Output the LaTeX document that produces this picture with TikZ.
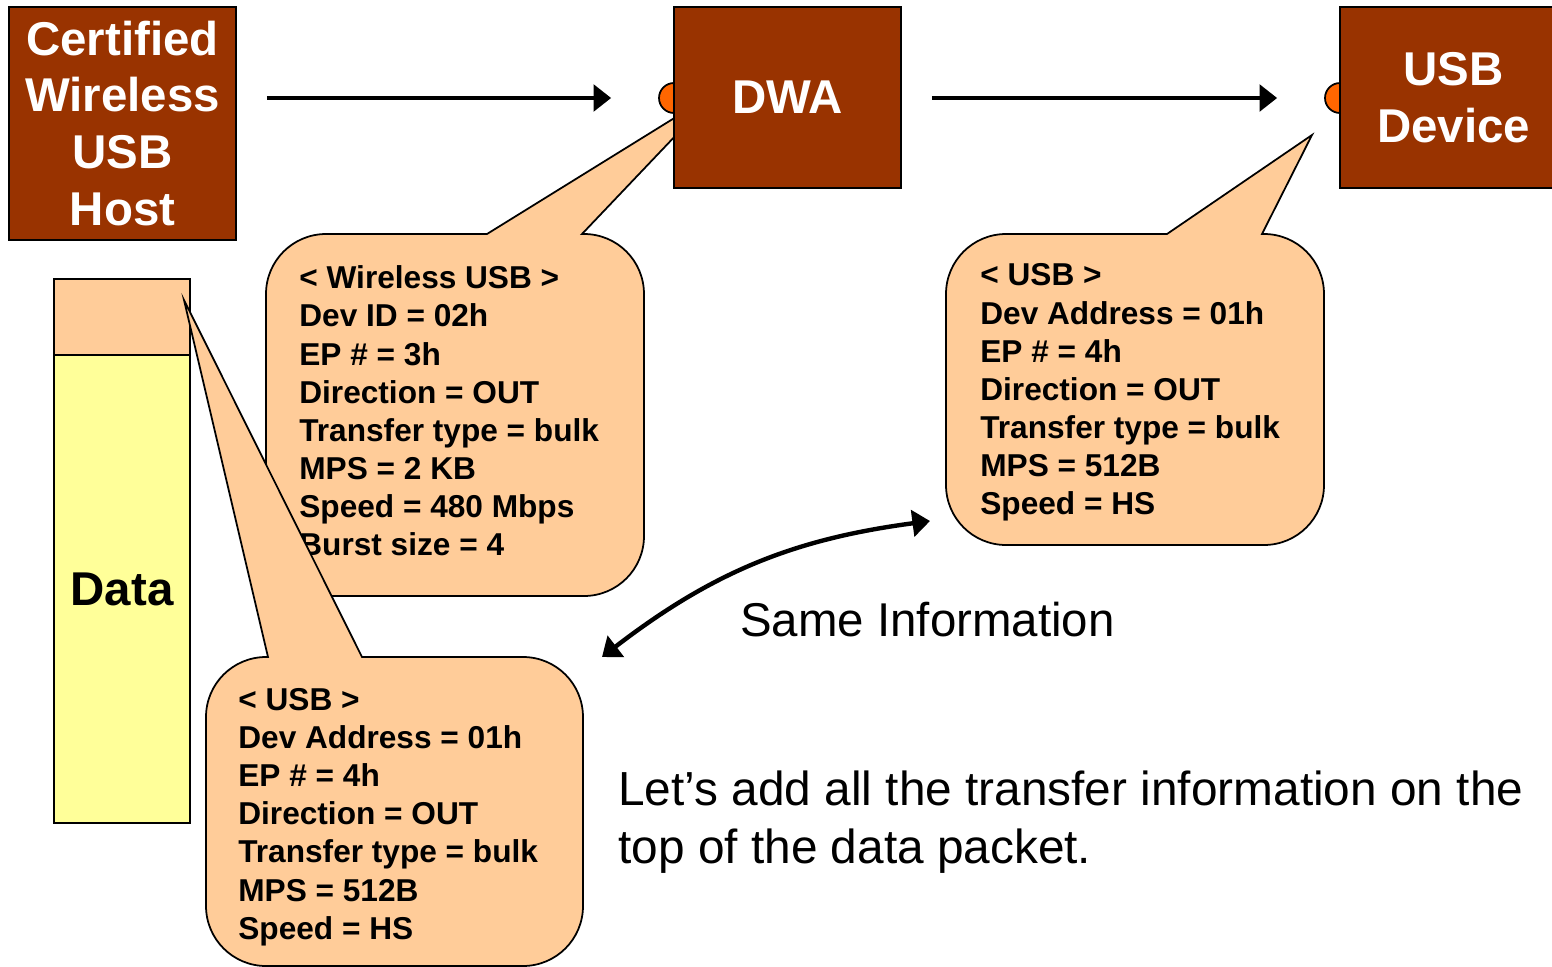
\documentclass[tikz,border=0pt]{standalone}
\usepackage{fontspec}
\setmainfont{Liberation Sans}
\usetikzlibrary{arrows.meta}
\definecolor{brick}{HTML}{993300}
\definecolor{peach}{HTML}{FFCC99}
\definecolor{paleyel}{HTML}{FFFF99}
\definecolor{portor}{HTML}{FF6600}

\begin{document}
\begin{tikzpicture}  % ------ wireless USB host -> DWA -> USB device -------------------
      [x=0.02cm,y=-0.02cm,
       unit/.style={draw=black, line width=1pt, fill=brick, text=white, align=center,
                    inner sep=0pt, font=\fontsize{27}{32.4}\selectfont\bfseries},
       port/.style={draw=black, line width=1pt, fill=portor, circle, minimum size=0.6cm, inner sep=0pt},
       bubble/.style={draw=black, line width=1pt, fill=peach},
       info/.style={font=\fontsize{18}{21.7}\selectfont\bfseries, align=left, anchor=west, inner sep=0pt},
       flow/.style={line width=2.5pt, -{Triangle[length=10pt,width=15pt]}}]
\useasboundingbox (0,0) rectangle (1552,967);
\begin{scope}
    \clip (0,0) rectangle (1552,967);
    \node[port] (dwaport) at (674,98) {};
    \node[port] (devport) at (1340,98) {};
    % callout on the wireless side (tip hidden under the DWA)
    \path[bubble] (487,234) -- (718,91) -- (582,234) -- (584,234)
        arc[start angle=90,end angle=0,radius=1.2cm] -- (644,536)
        arc[start angle=0,end angle=-90,radius=1.2cm] -- (326,596)
        arc[start angle=270,end angle=180,radius=1.2cm] -- (266,294)
        arc[start angle=180,end angle=90,radius=1.2cm] -- cycle;
    \node[info] (wusb) at (299,411) {< Wireless USB >\\Dev ID = 02h\\EP \# = 3h\\Direction = OUT\\Transfer type = bulk\\MPS = 2 KB\\Speed = 480 Mbps\\Burst size = 4};
    \node[unit, minimum width=4.54cm, minimum height=4.66cm] (host) at (122.5,123.5) {Certified\\Wireless\\USB\\Host};
    \node[unit, minimum width=4.54cm, minimum height=3.62cm] (dwa) at (787.5,97.5) {DWA};
    \node[unit, minimum width=4.54cm, minimum height=3.62cm] (dev) at (1453.5,97.5) {USB\\Device};
    % callout on the USB side
    \path[bubble] (1167,234) -- (1312,135) -- (1262,234) -- (1264,234)
        arc[start angle=90,end angle=0,radius=1.2cm] -- (1324,485)
        arc[start angle=0,end angle=-90,radius=1.2cm] -- (1006,545)
        arc[start angle=270,end angle=180,radius=1.2cm] -- (946,294)
        arc[start angle=180,end angle=90,radius=1.2cm] -- cycle;
    \node[info] (usbdev) at (980,392.5) {< USB >\\Dev Address = 01h\\EP \# = 4h\\Direction = OUT\\Transfer type = bulk\\MPS = 512B\\Speed = HS};
    % the packet
    \node[draw, line width=1pt, fill=peach, minimum width=2.72cm, minimum height=1.52cm, inner sep=0pt] (hdr) at (122,317) {};
    \node[draw, line width=1pt, fill=paleyel, minimum width=2.72cm, minimum height=9.36cm, inner sep=0pt,
          font=\fontsize{27}{32}\selectfont\bfseries] (payload) at (122,589) {Data};
    \path[bubble] (268,657) -- (184,300) -- (362,657) -- (523,657)
        arc[start angle=90,end angle=0,radius=1.2cm] -- (583,906)
        arc[start angle=0,end angle=-90,radius=1.2cm] -- (266,966)
        arc[start angle=270,end angle=180,radius=1.2cm] -- (206,717)
        arc[start angle=180,end angle=90,radius=1.2cm] -- cycle;
    \node[info] (usbhdr) at (238,817) {< USB >\\Dev Address = 01h\\EP \# = 4h\\Direction = OUT\\Transfer type = bulk\\MPS = 512B\\Speed = HS};
    % links
    \draw[flow, shorten <=0.6cm, shorten >=0.94cm] (host.east |- dwaport) -- (dwaport.west);
    \draw[flow, shorten <=0.6cm, shorten >=0.94cm] (dwa.east |- devport) -- (devport.west);
    \coordinate (sameA) at (602,657);
    \coordinate (sameB) at (930,521);
    \draw[line width=2.5pt, {Triangle[length=10pt,width=15pt]}-{Triangle[length=10pt,width=15pt]}]
        (sameA) to[bend left=15] (sameB);
    \node[anchor=west, inner sep=0pt, font=\fontsize{27}{32}\selectfont] (same) at (740,620) {Same Information};
    \node[anchor=west, align=left, inner sep=0pt, font=\fontsize{27.2}{33}\selectfont] (note) at (618,822)
        {Let’s add all the transfer information on the\\top of the data packet.};
\end{scope}
\end{tikzpicture}
\end{document}
